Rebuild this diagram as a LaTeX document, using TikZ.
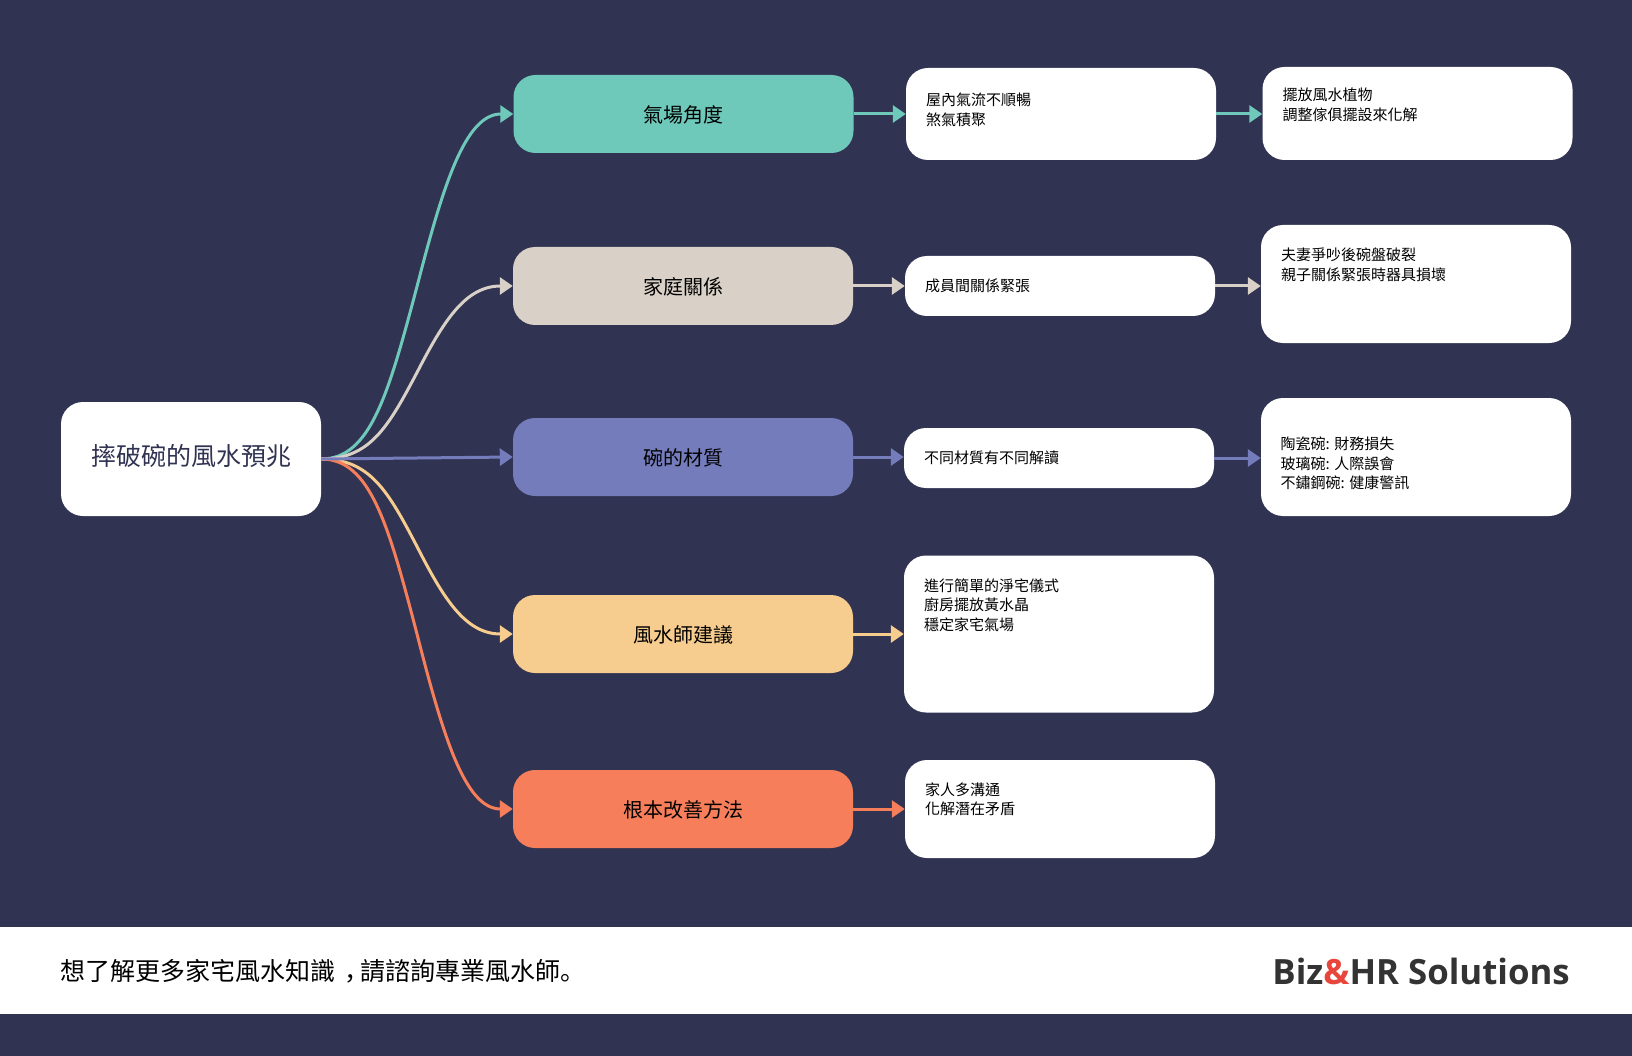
\documentclass[tikz,border=0pt]{standalone}
\usepackage{fontspec}
\setmainfont{Noto Sans CJK TC}
\newfontfamily\punctfont{Noto Sans CJK SC}
\newfontfamily\logofont{Open Sans}
\usetikzlibrary{arrows.meta}
\definecolor{bgcol}{HTML}{303351}
\definecolor{tealcol}{HTML}{6FC9BB}
\definecolor{sandcol}{HTML}{D9D1C7}
\definecolor{violetcol}{HTML}{757CBB}
\definecolor{goldcol}{HTML}{F7CC8F}
\definecolor{coralcol}{HTML}{F67E5A}
\definecolor{logocol}{HTML}{333333}
\definecolor{ampcol}{HTML}{E8453C}
\tikzset{
  box/.style={rounded corners=22pt, inner sep=0pt, minimum width=310pt},
  topic/.style={box, fill=white, minimum width=260pt, minimum height=114pt, text=bgcol, text height=14pt, text depth=1.4pt, font=\fontsize{25}{30}\selectfont},
  branch/.style={box, minimum width=340pt, minimum height=78pt, text=black, text height=19.2pt, text depth=2pt, font=\fontsize{20}{24}\selectfont},
  detail/.style={box, fill=white},
  leaftext/.style={anchor=west, inner sep=0pt, align=left, text=black, font=\fontsize{15}{19.5}\selectfont},
  edgeline/.style={line width=3pt, -{Triangle[length=13pt,width=17pt]}}
}
\begin{document}
\begin{tikzpicture}[x=1pt, y=-1pt]
  \useasboundingbox (0,0) rectangle (1632,1056);
  \fill[bgcol] (0,0) rectangle (1632,1056);

  \node[topic] (root) at (191,459) {摔破碗的風水預兆};

  \node[branch, fill=tealcol] (qi) at (683.5,114) {氣場角度};
  \node[branch, fill=sandcol] (family) at (683,286) {家庭關係};
  \node[branch, fill=violetcol] (material) at (683,457) {碗的材質};
  \node[branch, fill=goldcol] (advice) at (683,634) {風水師建議};
  \node[branch, fill=coralcol] (remedy) at (683,809) {根本改善方法};

  \node[detail, minimum height=92pt] (qia) at (1061,114) {};
  \node[detail, minimum height=93pt] (qib) at (1417.5,113.5) {};
  \node[detail, minimum height=60pt] (familya) at (1060,286) {};
  \node[detail, minimum height=118pt] (familyb) at (1416,284) {};
  \node[detail, minimum height=60pt] (materiala) at (1059,458) {};
  \node[detail, minimum height=118pt] (materialb) at (1416,457) {};
  \node[detail, minimum height=157pt] (advicea) at (1059,634) {};
  \node[detail, minimum height=98pt] (remedya) at (1060,809) {};

  \node[leaftext] (qiatext) at (926,109.6) {屋內氣流不順暢\\煞氣積聚};
  \node[leaftext] (qibtext) at (1282.5,104.6) {擺放風水植物\\調整傢俱擺設來化解};
  \node[leaftext] (familyatext) at (925,285.6) {成員間關係緊張};
  \node[leaftext] (familybtext) at (1281,264.6) {夫妻爭吵後碗盤破裂\\親子關係緊張時器具損壞};
  \node[leaftext] (materialatext) at (924,457.6) {不同材質有不同解讀};
  \node[leaftext] (materialbtext) at (1280.5,463.6) {陶瓷碗: 財務損失\\玻璃碗: 人際誤會\\不鏽鋼碗: 健康警訊};
  \node[leaftext] (adviceatext) at (924,605) {進行簡單的淨宅儀式\\廚房擺放黃水晶\\穩定家宅氣場};
  \node[leaftext] (remedyatext) at (925,799.5) {家人多溝通\\化解潛在矛盾};

  \foreach \target/\col/\ty in {qi/tealcol/114, family/sandcol/286, advice/goldcol/634, remedy/coralcol/809}
    \draw[edgeline, \col] (root.east) .. controls (370,459) and (388,{459+0.183*(\ty-459)}) .. (417,{459+0.5*(\ty-459)})
      .. controls (443,{459+0.791*(\ty-459)}) and (465,\ty) .. (\target.west);
  \draw[edgeline, violetcol] (root.east) -- (material.west);

  \draw[edgeline, tealcol] (qi.east) -- (qi.east -| qia.west);
  \draw[edgeline, tealcol] (qia.east) -- (qia.east -| qib.west);
  \draw[edgeline, sandcol] (family.east) -- (family.east -| familya.west);
  \draw[edgeline, sandcol] (familya.east) -- (familya.east -| familyb.west);
  \draw[edgeline, violetcol] (material.east) -- (material.east -| materiala.west);
  \draw[edgeline, violetcol] (materiala.east) -- (materiala.east -| materialb.west);
  \draw[edgeline, goldcol] (advice.east) -- (advice.east -| advicea.west);
  \draw[edgeline, coralcol] (remedy.east) -- (remedy.east -| remedya.west);

  \node[fill=white, inner sep=0pt, minimum width=1632pt, minimum height=87pt] (footer) at (816,970) {};
  \node[anchor=west, inner sep=0pt, text=black, font=\fontsize{25}{30}\selectfont] (footertext) at (60.5,971.5) {想了解更多家宅風水知識{\punctfont\hspace{0.35em}，\hspace{-0.35em}}請諮詢專業風水師{\punctfont 。}};
  \node[anchor=east, inner sep=0pt, text=logocol, font=\logofont\bfseries\fontsize{34.8}{40}\selectfont] (logo) at (1570,971) {Biz{\color{ampcol}\&}HR Solutions};
\end{tikzpicture}
\end{document}
